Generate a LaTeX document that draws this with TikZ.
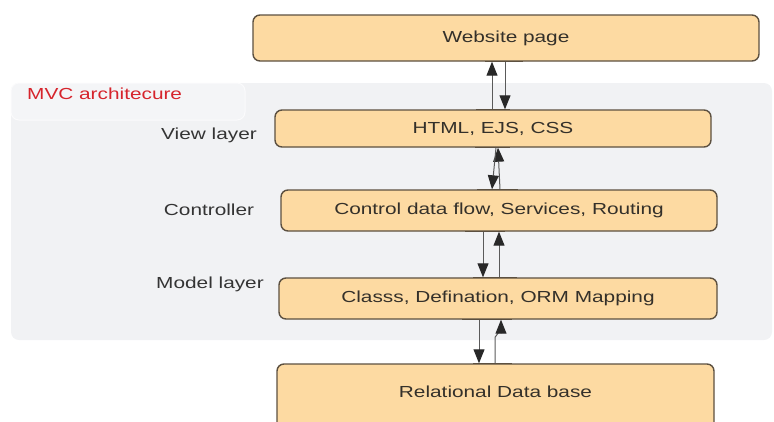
\documentclass[tikz,border=0pt]{standalone}
\usepackage{fontspec}
\setmainfont{Liberation Sans}[FakeStretch=1.3]
\usetikzlibrary{arrows.meta,calc}

\definecolor{boxfill}{RGB}{253,218,162}
\definecolor{boxline}{RGB}{92,80,64}
\definecolor{panel}{RGB}{241,242,244}
\definecolor{tabfill}{RGB}{244,245,247}
\definecolor{tabline}{RGB}{251,251,252}
\definecolor{txt}{RGB}{52,48,42}
\definecolor{lbl}{RGB}{52,52,52}
\definecolor{titlered}{RGB}{214,36,44}
\definecolor{wire}{RGB}{90,90,90}
\definecolor{tipc}{RGB}{40,40,40}

\begin{document}
\begin{tikzpicture}[x=1pt,y=-1pt,
  layerbox/.style={draw=boxline, fill=boxfill, line width=1.4pt, rounded corners=7pt,
    text=txt, font=\fontsize{16}{19}\selectfont, inner sep=0pt},
  sidelabel/.style={text=lbl, font=\fontsize{16}{19}\selectfont, inner sep=0pt},
  flow/.style={draw=wire, line width=1pt, -{Triangle[length=14pt,width=11pt,color=tipc]}},
  ledge/.style={draw=boxline, line width=1.4pt}]

\useasboundingbox (0,0) rectangle (774,421);
\clip (0,0) rectangle (774,421);

% architecture panel with its title tab
\path[fill=panel, rounded corners=8pt] (11,83) rectangle (772,340);
\path[fill=tabfill, draw=tabline, line width=1pt, rounded corners=8pt] (11,83) rectangle (245,120);
\node[anchor=west, text=titlered, font=\fontsize{16}{19}\selectfont, inner sep=0pt] (title) at (27,94) {MVC architecure};

% layers
\node[layerbox, minimum width=506pt, minimum height=46pt] (web)   at (506,38)    {Website page};
\node[layerbox, minimum width=436pt, minimum height=37pt] (view)  at (493,128.5) {HTML, EJS, CSS};
\node[layerbox, minimum width=436pt, minimum height=41pt] (ctrl)  at (499,210.5) {Control data flow, Services, Routing};
\node[layerbox, minimum width=438pt, minimum height=41pt] (model) at (498,298.5) {Classs, Defination, ORM Mapping};
% the database box runs on below the lower edge
\node[layerbox, minimum width=437pt, minimum height=80pt, text height=12pt, text depth=24.6pt]
  (rel) at (495.5,404) {Relational Data base};

% side labels
\node[sidelabel] (vlab) at (209,135) {View layer};
\node[sidelabel] (clab) at (209,210) {Controller};
\node[sidelabel] (mlab) at (210,284) {Model layer};

% x positions of connector ends
\foreach \n/\x in {a1/485,a2/523,a3/476,a4/510,a5/492,a6/505,
                   b1/475,b2/510,b3/477,b4/518,b5/500,b6/498,b7/496,b8/492,
                   c1/465,c2/505,c3/473,c4/517,c5/483,c6/499,
                   d1/462,d2/512,d3/473,d4/512,d5/479,d6/495,d7/501}
  \coordinate (\n) at (\x,0);

% website <-> view
\draw[ledge] (web.south -| a1) -- (web.south -| a2);
\draw[ledge] (view.north -| a3) -- (view.north -| a4);
\draw[flow] (view.north -| a5) -- (web.south -| a5);
\draw[flow] (web.south -| a6) -- (view.north -| a6);

% view <-> controller
\draw[ledge] (view.south -| b1) -- (view.south -| b2);
\draw[ledge] (ctrl.north -| b3) -- (ctrl.north -| b4);
\draw[flow] (ctrl.north -| b5) -- (view.south -| b6);
\draw[flow] (view.south -| b7) -- (ctrl.north -| b8);

% controller <-> model
\draw[ledge] (ctrl.south -| c1) -- (ctrl.south -| c2);
\draw[ledge] (model.north -| c3) -- (model.north -| c4);
\draw[flow] (ctrl.south -| c5) -- (model.north -| c5);
\draw[flow] (model.north -| c6) -- (ctrl.south -| c6);

% model <-> database
\draw[ledge] (model.south -| d1) -- (model.south -| d2);
\draw[ledge] (rel.north -| d3) -- (rel.north -| d4);
\draw[flow] (model.south -| d5) -- (rel.north -| d5);
\draw[flow] (rel.north -| d6) -- ++(0,-26) -- ++(6,-8) -- (model.south -| d7);

\end{tikzpicture}
\end{document}
